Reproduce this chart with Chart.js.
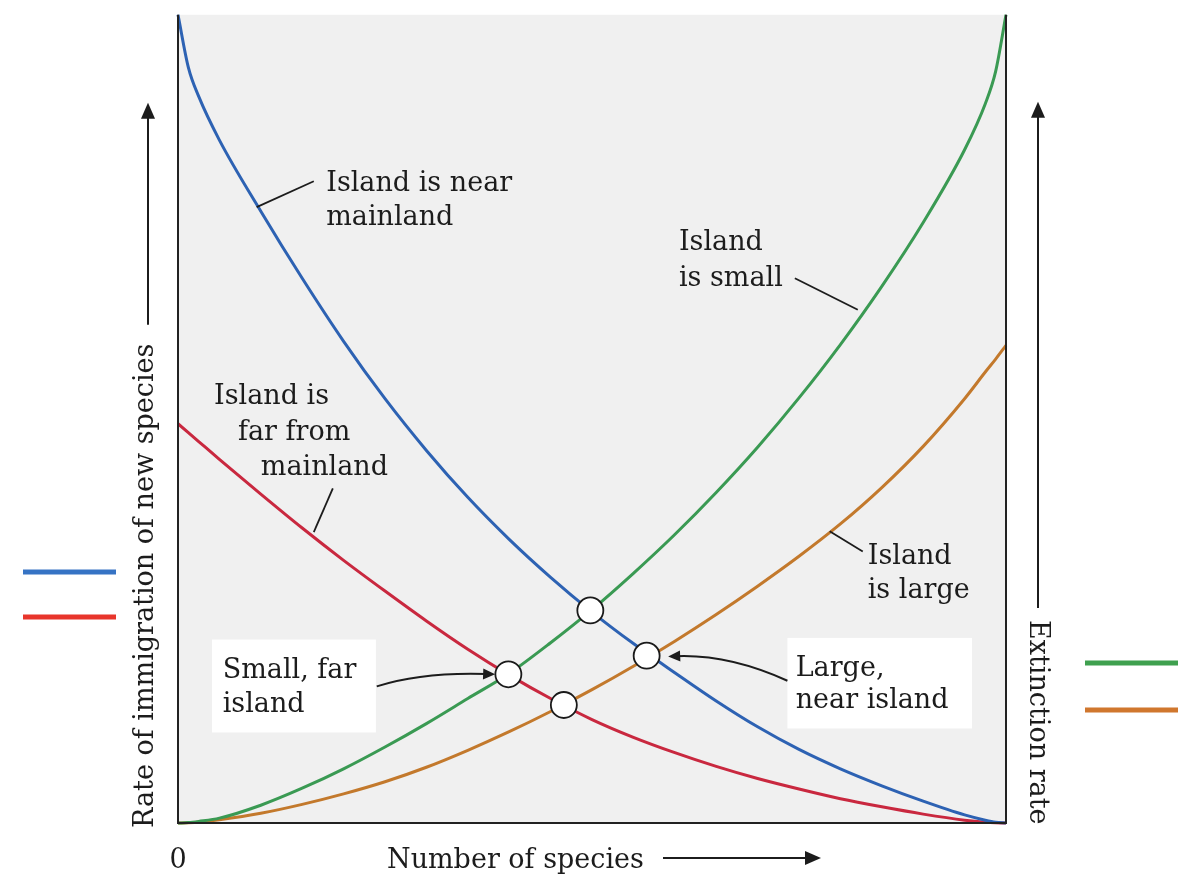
<!DOCTYPE html>
<html>
<head>
<meta charset="utf-8">
<script src="https://cdn.jsdelivr.net/npm/chart.js@4.4.1/dist/chart.umd.min.js"></script>
<style>
    html, body { margin: 0; padding: 0; background: #fff; }
    canvas { display: block; }
</style>
</head>
<body>
<canvas id="islandChart" width="1194" height="896"></canvas>
<script>
// number of species (x), shared by every curve
const speciesX = [0, 1.25, 2.5, 5, 10, 15, 20, 25, 30, 35, 40, 45, 50, 55, 60, 65, 70, 75, 80, 85, 90, 95, 97.5, 98.75, 100];

// immigration rates
const nearMainland = [100, 93.5, 89.9, 84.5, 75.7, 67.4, 59.6, 52.5, 46.1, 40.3, 35.1, 30.4, 26.1, 22.2, 18.6, 15.1, 11.9, 9.1, 6.7, 4.6, 2.7, 1.0, 0.35, 0.1, 0];
const farFromMainland = [49.4, 48.3, 47.2, 45.0, 40.7, 36.5, 32.5, 28.7, 25.0, 21.5, 18.3, 15.4, 12.8, 10.6, 8.7, 7.0, 5.5, 4.2, 3.0, 2.0, 1.1, 0.35, 0.1, 0.03, 0];

// extinction rates
const smallIsland = [0, 0.05, 0.2, 0.6, 2.2, 4.3, 6.7, 9.4, 12.3, 15.4, 18.5, 22.3, 26.4, 30.9, 35.7, 40.9, 46.5, 52.6, 59.2, 66.4, 74.3, 83.3, 89.0, 93.0, 100];
const largeIsland = [0, 0.03, 0.1, 0.4, 1.2, 2.3, 3.6, 5.1, 6.9, 9.0, 11.3, 13.8, 16.5, 19.4, 22.5, 25.8, 29.3, 33.0, 37.0, 41.5, 46.6, 52.5, 55.8, 57.4, 59.1];

// equilibrium points (where the curves cross)
const equilibriumX = [49.8, 39.9, 46.6, 56.6];
const equilibriumY = [26.3, 18.4, 14.6, 20.7];

const ink = "#1c1c1c";
const textFont = '27px "DejaVu Serif"';

function points(ys) {
    return speciesX.map((x, i) => ({ x, y: ys[i] }));
}

function curve(label, ys, color) {
    return {
        label,
        data: points(ys),
        borderColor: color,
        borderWidth: 3,
        pointRadius: 0,
        fill: false,
        cubicInterpolationMode: "monotone",
        clip: false,
        order: 1
    };
}

// text next to the curves, in data coordinates
const notes = [
    { x: 17.9, y: 78.2, text: "Island is near" },
    { x: 17.9, y: 74.0, text: "mainland" },
    { x: 60.5, y: 70.9, text: "Island" },
    { x: 60.5, y: 66.5, text: "is small" },
    { x: 4.35, y: 51.8, text: "Island is" },
    { x: 7.25, y: 47.4, text: "far from" },
    { x: 10.0, y: 43.1, text: "mainland" },
    { x: 83.3, y: 32.1, text: "Island" },
    { x: 83.3, y: 27.8, text: "is large" }
];

const pointers = [
    [9.5, 76.2, 16.4, 79.4],
    [74.5, 67.4, 82.1, 63.5],
    [18.7, 41.4, 16.4, 36.0],
    [78.7, 36.1, 82.7, 33.6]
];

const boxes = [
    {
        box: [4.1, 22.7, 23.9, 11.2],
        lines: [["Small, far", 5.4, 18.0], ["island", 5.4, 13.7]],
        arrow: [24.0, 16.9, 29.5, 18.7, 38.3, 18.4]
    },
    {
        box: [73.6, 22.9, 95.9, 11.7],
        lines: [["Large,", 74.6, 18.2], ["near island", 74.6, 14.2]],
        arrow: [73.6, 17.6, 66.5, 20.9, 59.2, 20.6]
    }
];

function head(ctx, x, y, angle, len, half) {
    ctx.save();
    ctx.translate(x, y);
    ctx.rotate(angle);
    ctx.beginPath();
    ctx.moveTo(0, 0);
    ctx.lineTo(-len, -half);
    ctx.lineTo(-len, half);
    ctx.closePath();
    ctx.fill();
    ctx.restore();
}

function arrow(ctx, x1, y1, x2, y2, len, half) {
    const a = Math.atan2(y2 - y1, x2 - x1);
    ctx.beginPath();
    ctx.moveTo(x1, y1);
    ctx.lineTo(x2 - Math.cos(a) * (len - 2), y2 - Math.sin(a) * (len - 2));
    ctx.stroke();
    head(ctx, x2, y2, a, len, half);
}

const islandDecor = {
    id: "islandDecor",
    beforeDatasetsDraw(chart) {
        const { ctx, chartArea: a } = chart;
        ctx.save();
        ctx.fillStyle = "#f0f0f0";
        ctx.fillRect(a.left, a.top, a.right - a.left, a.bottom - a.top);
        ctx.restore();
    },
    afterDraw(chart) {
        const { ctx, chartArea: a } = chart;
        const sx = chart.scales.x, sy = chart.scales.y;
        const px = v => sx.getPixelForValue(v);
        const py = v => sy.getPixelForValue(v);

        ctx.save();
        // frame: left, bottom, right
        ctx.strokeStyle = "#222";
        ctx.lineWidth = 2;
        ctx.beginPath();
        ctx.moveTo(a.left, a.top);
        ctx.lineTo(a.left, a.bottom);
        ctx.lineTo(a.right, a.bottom);
        ctx.lineTo(a.right, a.top);
        ctx.stroke();

        ctx.fillStyle = ink;
        ctx.strokeStyle = ink;
        ctx.font = textFont;
        ctx.textBaseline = "alphabetic";
        ctx.textAlign = "left";

        notes.forEach(n => ctx.fillText(n.text, px(n.x), py(n.y)));

        ctx.lineWidth = 1.8;
        pointers.forEach(p => {
            ctx.beginPath();
            ctx.moveTo(px(p[0]), py(p[1]));
            ctx.lineTo(px(p[2]), py(p[3]));
            ctx.stroke();
        });

        boxes.forEach(b => {
            const [x1, y1, x2, y2] = b.box;
            ctx.fillStyle = "#fff";
            ctx.fillRect(px(x1), py(y1), px(x2) - px(x1), py(y2) - py(y1));
            ctx.fillStyle = ink;
            b.lines.forEach(l => ctx.fillText(l[0], px(l[1]), py(l[2])));
            const [sxv, syv, cx, cy, tx, ty] = b.arrow;
            const ang = Math.atan2(py(ty) - py(cy), px(tx) - px(cx));
            ctx.lineWidth = 2;
            ctx.beginPath();
            ctx.moveTo(px(sxv), py(syv));
            ctx.quadraticCurveTo(px(cx), py(cy), px(tx) - Math.cos(ang) * 8, py(ty) - Math.sin(ang) * 8);
            ctx.stroke();
            head(ctx, px(tx), py(ty), ang, 12, 5.5);
        });

        // x axis: zero and title
        ctx.font = '27px "DejaVu Serif"';
        ctx.textAlign = "center";
        ctx.fillText("0", px(0), a.bottom + 45);
        ctx.textAlign = "left";
        ctx.fillText("Number of species", a.left + 209, a.bottom + 45);
        ctx.lineWidth = 2;
        arrow(ctx, a.left + 485, a.bottom + 35, a.left + 643, a.bottom + 35, 16, 7);

        // left title, reading upwards
        ctx.save();
        ctx.translate(a.left - 25, a.bottom + 5);
        ctx.rotate(-Math.PI / 2);
        ctx.fillText("Rate of immigration of new species", 0, 0);
        ctx.restore();
        arrow(ctx, a.left - 30, a.top + 310, a.left - 30, a.top + 88, 16, 7);

        // right title, reading downwards
        ctx.save();
        ctx.translate(a.right + 24, a.bottom - 203);
        ctx.rotate(Math.PI / 2);
        ctx.fillText("Extinction rate", 0, 0);
        ctx.restore();
        arrow(ctx, a.right + 32, a.bottom - 215, a.right + 32, a.top + 87, 16, 7);

        // colour keys at the sides
        ctx.lineWidth = 5;
        const keys = [
            ["#3673c4", 23, 116, 572],
            ["#e8352b", 23, 116, 617],
            ["#3fa04f", 1085, 1178, 663],
            ["#d0772e", 1085, 1178, 710]
        ];
        keys.forEach(k => {
            ctx.strokeStyle = k[0];
            ctx.beginPath();
            ctx.moveTo(k[1], k[3]);
            ctx.lineTo(k[2], k[3]);
            ctx.stroke();
        });
        ctx.restore();
    }
};

new Chart(document.getElementById("islandChart"), {
    type: "line",
    data: {
        datasets: [
            {
                type: "scatter",
                label: "Equilibrium",
                data: equilibriumX.map((x, i) => ({ x, y: equilibriumY[i] })),
                pointRadius: 13,
                pointBackgroundColor: "#fff",
                pointBorderColor: "#1a1a1a",
                pointBorderWidth: 1.8,
                showLine: false,
                order: 0
            },
            curve("Island is near mainland", nearMainland, "#2d62b3"),
            curve("Island is far from mainland", farFromMainland, "#c9283f"),
            curve("Island is small", smallIsland, "#3a9a53"),
            curve("Island is large", largeIsland, "#c3792c")
        ]
    },
    options: {
        responsive: false,
        animation: false,
        layout: { padding: { left: 178, top: 11, right: 188, bottom: 73 } },
        scales: {
            x: { type: "linear", min: 0, max: 100, display: false },
            y: { type: "linear", min: 0, max: 100, display: false }
        },
        plugins: {
            legend: { display: false },
            tooltip: { enabled: false }
        }
    },
    plugins: [islandDecor]
});
</script>
</body>
</html>
